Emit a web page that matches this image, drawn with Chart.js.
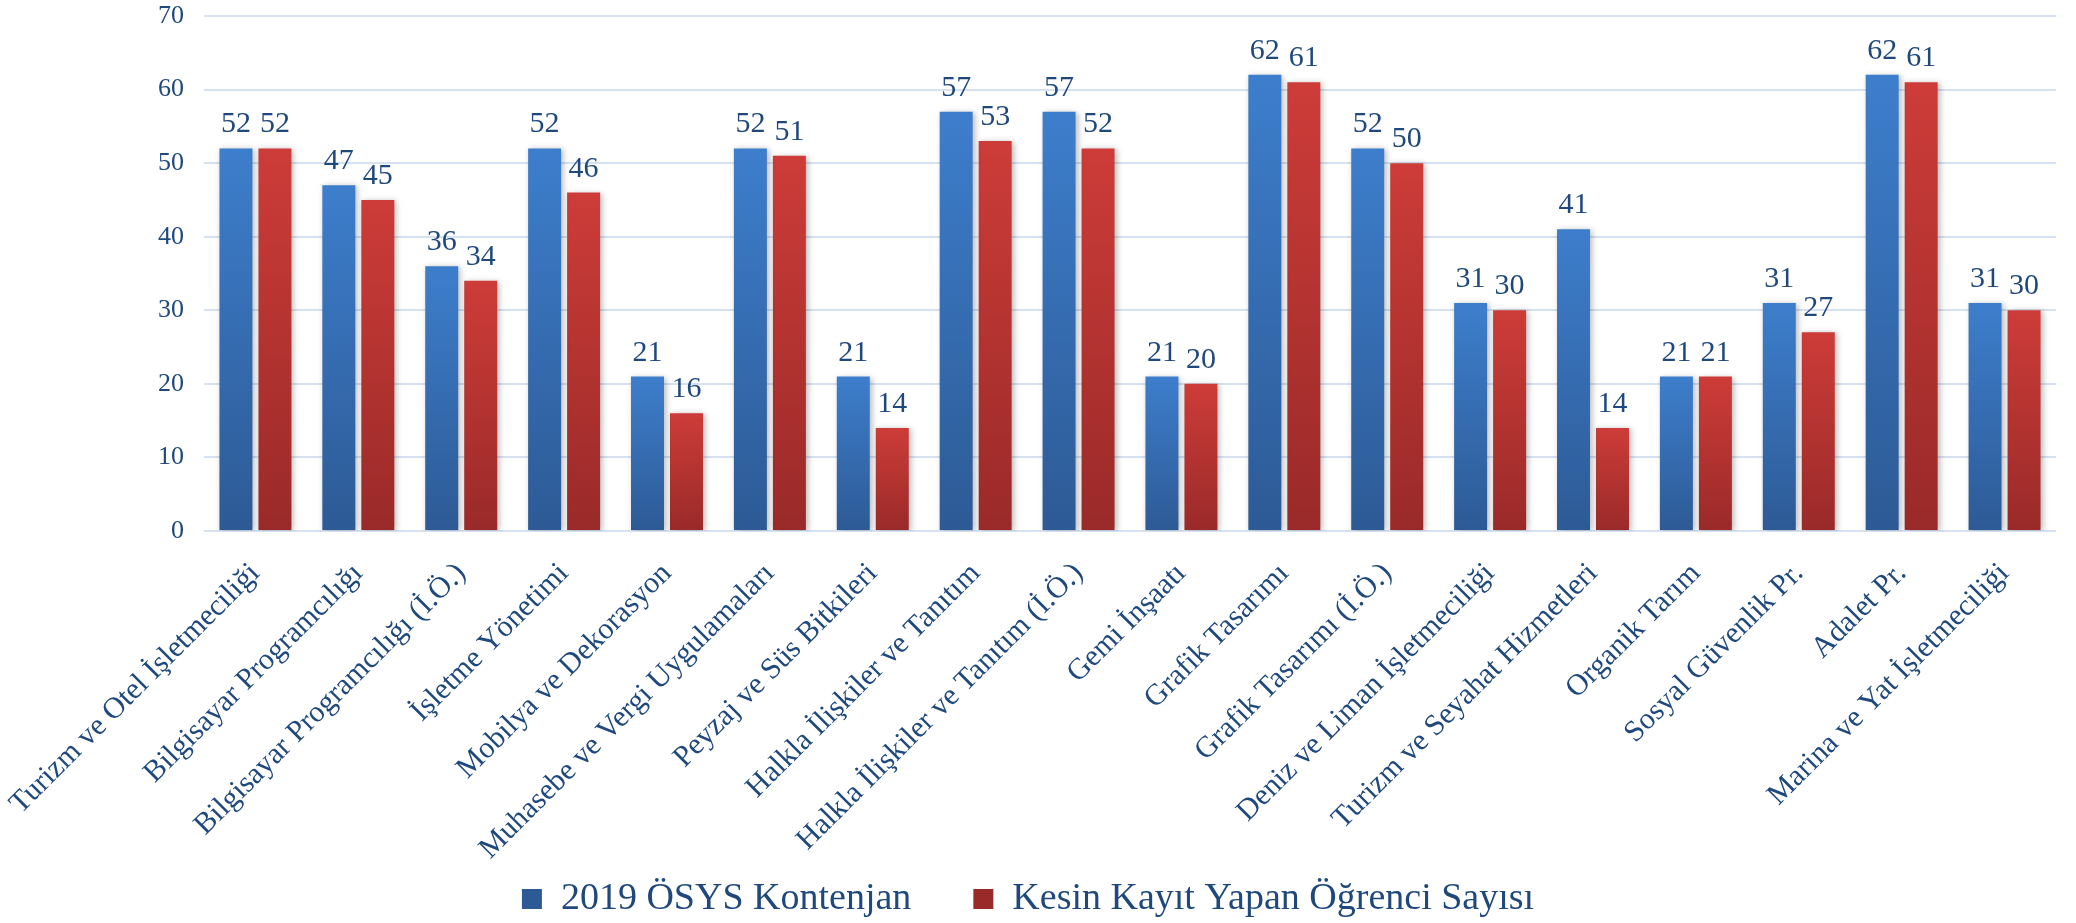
<!DOCTYPE html>
<html>
<head>
<meta charset="utf-8">
<script src="https://cdn.jsdelivr.net/npm/chart.js@4.4.0/dist/chart.umd.min.js"></script>
<style>
  html, body { margin: 0; padding: 0; background: #ffffff; }
  #wrap { width: 2076px; height: 923px; position: relative; }
</style>
</head>
<body>
<div id="wrap"><canvas id="c"></canvas></div>
<script>
const categories = [
  "Turizm ve Otel İşletmeciliği",
  "Bilgisayar Programcılığı",
  "Bilgisayar Programcılığı (İ.Ö.)",
  "İşletme Yönetimi",
  "Mobilya ve Dekorasyon",
  "Muhasebe ve Vergi Uygulamaları",
  "Peyzaj ve Süs Bitkileri",
  "Halkla İlişkiler ve Tanıtım",
  "Halkla İlişkiler ve Tanıtım (İ.Ö.)",
  "Gemi İnşaatı",
  "Grafik Tasarımı",
  "Grafik Tasarımı (İ.Ö.)",
  "Deniz ve Liman İşletmeciliği",
  "Turizm ve Seyahat Hizmetleri",
  "Organik Tarım",
  "Sosyal Güvenlik Pr.",
  "Adalet Pr.",
  "Marina ve Yat İşletmeciliği"
];
const seriesNames = ["2019 ÖSYS Kontenjan", "Kesin Kayıt Yapan Öğrenci Sayısı"];
const kontenjan = [52, 47, 36, 52, 21, 52, 21, 57, 57, 21, 62, 52, 31, 41, 21, 31, 62, 31];
const kayit     = [52, 45, 34, 46, 16, 51, 14, 53, 52, 20, 61, 50, 30, 14, 21, 27, 61, 30];
const yTicks = [0, 10, 20, 30, 40, 50, 60, 70];

const TEXT = '#1F497D';
const FONT = '"Liberation Serif", "Times New Roman", serif';

function gradientFill(topColor, bottomColor, flatColor) {
  return function (c) {
    if (c.type !== 'data') return flatColor;
    const chart = c.chart;
    const ys = chart.scales && chart.scales.y;
    if (!chart.chartArea || !ys) return flatColor;
    const yTop = ys.getPixelForValue(c.raw);
    const yBot = ys.getPixelForValue(0);
    if (!isFinite(yTop) || !isFinite(yBot) || Math.abs(yBot - yTop) < 1) return topColor;
    const g = chart.ctx.createLinearGradient(0, yTop, 0, yBot);
    g.addColorStop(0, topColor);
    g.addColorStop(1, bottomColor);
    return g;
  };
}

const shadowPlugin = {
  id: 'barShadow',
  beforeDatasetsDraw(chart) {
    const c = chart.ctx;
    c.save();
    c.shadowColor = 'rgba(0,0,0,0.28)';
    c.shadowBlur = 6;
    c.shadowOffsetX = 2;
    c.shadowOffsetY = 1;
  },
  afterDatasetsDraw(chart) {
    chart.ctx.restore();
  }
};

const valueLabels = {
  id: 'valueLabels',
  afterDatasetsDraw(chart) {
    const c = chart.ctx;
    c.save();
    c.font = '30px ' + FONT;
    c.fillStyle = TEXT;
    c.textAlign = 'center';
    c.textBaseline = 'alphabetic';
    chart.data.datasets.forEach((ds, i) => {
      const meta = chart.getDatasetMeta(i);
      meta.data.forEach((bar, j) => {
        c.fillText(String(ds.data[j]), bar.x, bar.y - 16);
      });
    });
    c.restore();
  }
};

function draw() {
  Chart.defaults.font.family = FONT;
  Chart.defaults.color = TEXT;
  new Chart(document.getElementById('c'), {
    type: 'bar',
    data: {
      labels: categories,
      datasets: [
        {
          label: seriesNames[0],
          data: kontenjan,
          backgroundColor: gradientFill('#3D7ECC', '#2D5A95', '#3670B8'),
          categoryPercentage: 0.758,
          barPercentage: 0.846
        },
        {
          label: seriesNames[1],
          data: kayit,
          backgroundColor: gradientFill('#CD3C38', '#992A29', '#BC3633'),
          categoryPercentage: 0.758,
          barPercentage: 0.846
        }
      ]
    },
    options: {
      responsive: true,
      maintainAspectRatio: false,
      animation: false,
      layout: { padding: { top: 16, right: 20, left: 0, bottom: -5 } },
      plugins: {
        legend: {
          position: 'bottom',
          labels: {
            boxWidth: 20,
            boxHeight: 20,
            padding: 62,
            color: TEXT,
            font: { size: 38, family: FONT }
          }
        },
        tooltip: { enabled: false }
      },
      scales: {
        x: {
          grid: { display: false, drawTicks: false },
          border: { display: false },
          ticks: {
            autoSkip: false,
            maxRotation: 45,
            minRotation: 45,
            padding: 25,
            color: TEXT,
            font: { size: 30, family: FONT }
          },
          afterFit(scale) {
            scale.height = 287;
            scale.paddingLeft = 0;
            scale.paddingRight = 0;
            // let the long rotated labels run below the axis box, as in the original
            scale._computeLabelArea = function () { return undefined; };
          }
        },
        y: {
          min: 0,
          max: 70,
          afterBuildTicks(scale) { scale.ticks = yTicks.map(v => ({ value: v })); },
          grid: { color: '#D6E1F1', lineWidth: 2, drawTicks: false },
          border: { display: false },
          ticks: {
            padding: 20,
            color: TEXT,
            font: { size: 26, family: FONT }
          },
          afterFit(scale) {
            scale.width = 204;
            scale.paddingTop = 0;
            scale.paddingBottom = 0;
          }
        }
      }
    },
    plugins: [shadowPlugin, valueLabels]
  });
}

if (document.fonts && document.fonts.load) {
  document.fonts.load('30px "Liberation Serif"').then(draw, draw);
} else {
  draw();
}
</script>
</body>
</html>
